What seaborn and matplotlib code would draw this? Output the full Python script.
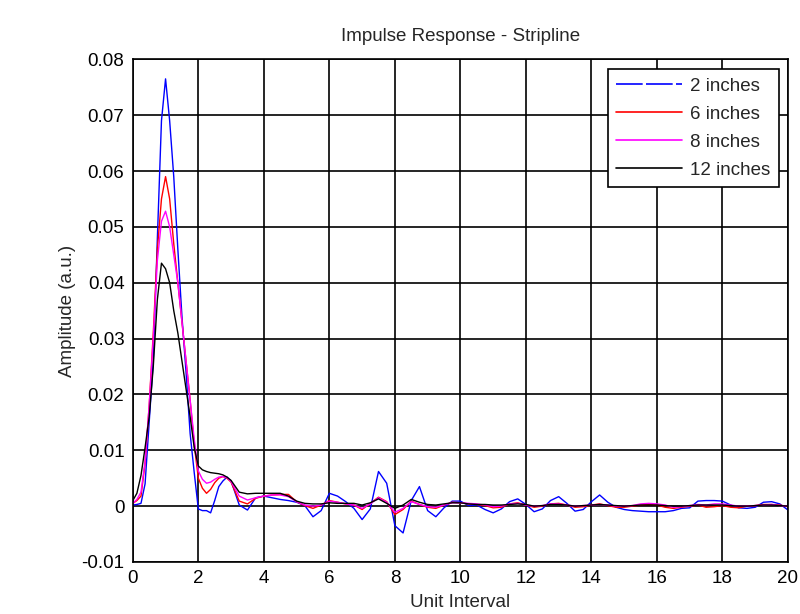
import numpy as np
import pandas as pd
import matplotlib
matplotlib.use("Agg")
import matplotlib.pyplot as plt
import seaborn as sns
from matplotlib.lines import Line2D

# sampling grid (unit intervals): fine near the main pulse, coarser in the tail
ui = np.concatenate([np.arange(0, 3.001, 0.125), np.arange(3.25, 20.001, 0.25)])

series_names = ["2 inches", "6 inches", "8 inches", "12 inches"]

amp_2in = [
    0.0002, 0.0003, 0.0005, 0.004, 0.015, 0.026, 0.048, 0.069, 0.0765, 0.069,
    0.059, 0.046, 0.034, 0.024, 0.013, 0.006, -0.0005, -0.0008, -0.0008, -0.0012,
    0.001, 0.0035, 0.0045, 0.0052, 0.0045,
    0.0002, -0.0007, 0.0015, 0.0018, 0.0015, 0.0012, 0.001, 0.0007, 0.0001, -0.0019,
    -0.0008, 0.0023, 0.0018, 0.0008, -0.0004, -0.0024, -0.0005, 0.0062, 0.0041, -0.0035,
    -0.0048, 0.001, 0.0035, -0.0008, -0.0019, -0.0003, 0.0009, 0.0009, 0.0001, 0.0002,
    -0.0006, -0.0012, -0.0005, 0.0008, 0.0013, 0.0003, -0.001, -0.0005, 0.001, 0.0017,
    0.0005, -0.0009, -0.0006, 0.0008, 0.002, 0.0007, -0.0002, -0.0006, -0.0008, -0.0009,
    -0.001, -0.001, -0.001, -0.0008, -0.0004, -0.0003, 0.0009, 0.001, 0.001, 0.0009,
    0.0002, -0.0003, -0.0004, -0.0002, 0.0007, 0.0008, 0.0004, -0.0007,
]

amp_6in = [
    0.0005, 0.001, 0.0018, 0.0077, 0.018, 0.031, 0.046, 0.055, 0.059, 0.055,
    0.047, 0.040, 0.033, 0.026, 0.019, 0.011, 0.005, 0.0032, 0.0023, 0.003,
    0.0042, 0.005, 0.0053, 0.005, 0.0043,
    0.0009, 0.0004, 0.0014, 0.0018, 0.002, 0.0021, 0.0021, 0.0008, 0.0001, -0.0004,
    0.0002, 0.001, 0.0007, 0.0004, 0.0002, -0.0006, 0.0005, 0.0016, 0.0008, -0.0015,
    -0.0006, 0.0009, 0.0003, -0.0002, -0.0004, 0.0002, 0.0007, 0.0006, 0.0004, 0.0003,
    0.0001, -0.0003, -0.0002, 0.0004, 0.0006, 0.0002, -0.0002, 0.0, 0.0004, 0.0005,
    0.0002, -0.0002, -0.0001, 0.0002, 0.0004, 0.0001, -0.0002, -0.0002, 0.0, 0.0002,
    0.0003, 0.0002, -0.0002, -0.0004, -0.0002, 0.0, 0.0002, -0.0002, -0.0001, 0.0001,
    -0.0002, -0.0003, 0.0, 0.0001, 0.0003, 0.0003, 0.0002, -0.0001,
]

amp_8in = [
    0.0005, 0.0012, 0.0025, 0.008, 0.018, 0.030, 0.044, 0.051, 0.0528, 0.050,
    0.045, 0.040, 0.033, 0.026, 0.019, 0.012, 0.0063, 0.0048, 0.0041, 0.0043,
    0.0048, 0.0052, 0.0053, 0.0051, 0.0044,
    0.0018, 0.0011, 0.0015, 0.0018, 0.002, 0.002, 0.0017, 0.0008, 0.0002, 0.0,
    0.0002, 0.0009, 0.0007, 0.0004, 0.0002, -0.0004, 0.0004, 0.0015, 0.0007, -0.0011,
    -0.0004, 0.0008, 0.0003, -0.0001, -0.0002, 0.0002, 0.0006, 0.0006, 0.0005, 0.0004,
    0.0002, -0.0001, 0.0, 0.0004, 0.0005, 0.0002, 0.0, 0.0001, 0.0004, 0.0004,
    0.0002, 0.0, 0.0001, 0.0002, 0.0003, 0.0002, 0.0, 0.0, 0.0001, 0.0004,
    0.0005, 0.0004, 0.0002, -0.0002, -0.0001, 0.0001, 0.0003, 0.0002, 0.0004, 0.0004,
    0.0002, 0.0, 0.0, 0.0001, 0.0002, 0.0003, 0.0001, 0.0,
]

amp_12in = [
    0.001, 0.0023, 0.0055, 0.0105, 0.016, 0.025, 0.037, 0.0435, 0.0425, 0.040,
    0.035, 0.031, 0.026, 0.021, 0.016, 0.0105, 0.0072, 0.0065, 0.0062, 0.006,
    0.0059, 0.0058, 0.0056, 0.0052, 0.0046,
    0.0025, 0.0022, 0.0023, 0.0023, 0.0023, 0.0023, 0.0018, 0.0009, 0.0005, 0.0004,
    0.0004, 0.0006, 0.0005, 0.0005, 0.0005, 0.0002, 0.0006, 0.0013, 0.0005, -0.0004,
    0.0002, 0.0012, 0.0007, 0.0003, 0.0002, 0.0004, 0.0006, 0.0006, 0.0004, 0.0003,
    0.0003, 0.0002, 0.0002, 0.0003, 0.0004, 0.0003, 0.0, 0.0001, 0.0003, 0.0003,
    0.0002, 0.0, 0.0001, 0.0002, 0.0003, 0.0002, 0.0001, 0.0, 0.0001, 0.0002,
    0.0002, 0.0002, 0.0001, 0.0, 0.0, 0.0001, 0.0002, 0.0002, 0.0002, 0.0002,
    0.0001, 0.0, 0.0, 0.0001, 0.0002, 0.0002, 0.0001, 0.0,
]

x_ticks = list(range(0, 21, 2))
y_ticks = [-0.01, 0, 0.01, 0.02, 0.03, 0.04, 0.05, 0.06, 0.07, 0.08]
y_tick_labels = ["-0.01", "0", "0.01", "0.02", "0.03", "0.04", "0.05", "0.06", "0.07", "0.08"]

colors = {"2 inches": "#0000ff", "6 inches": "#ff0000",
          "8 inches": "#ff00ff", "12 inches": "#000000"}

frames = []
for name, vals in zip(series_names, [amp_2in, amp_6in, amp_8in, amp_12in]):
    frames.append(pd.DataFrame({"ui": ui, "amp": vals, "series": name}))
df = pd.concat(frames, ignore_index=True)

sns.set_style("white")
plt.rcParams["font.family"] = ["Liberation Sans", "DejaVu Sans"]

fig = plt.figure(figsize=(8.0, 6.14), dpi=100)
ax = fig.add_axes([0.166, 0.0847, 0.819, 0.8187])

sns.lineplot(data=df, x="ui", y="amp", hue="series", hue_order=series_names,
             palette=colors, linewidth=1.0, ax=ax, legend=False,
             estimator=None, sort=False)

ax.set_xlim(0, 20)
ax.set_ylim(-0.01, 0.08)
ax.set_xticks(x_ticks)
ax.set_xticklabels([str(t) for t in x_ticks])
ax.set_yticks(y_ticks)
ax.set_yticklabels(y_tick_labels)
ax.grid(True, color="black", linewidth=1.2, linestyle="-")
ax.set_axisbelow(True)
for s in ax.spines.values():
    s.set_color("black")
    s.set_linewidth(1.2)
ax.tick_params(axis="both", labelsize=13.5, colors="black", direction="in",
               length=0, pad=6)

ax.set_title("Impulse Response - Stripline", fontsize=13.5, pad=13)
ax.set_xlabel("Unit Interval", fontsize=13.5, labelpad=5)
ax.set_ylabel("Amplitude (a.u.)", fontsize=13.5, labelpad=4)

handles = [Line2D([], [], color=colors["2 inches"], linewidth=1.2, dashes=(16, 2)),
           Line2D([], [], color=colors["6 inches"], linewidth=1.2),
           Line2D([], [], color=colors["8 inches"], linewidth=1.2),
           Line2D([], [], color=colors["12 inches"], linewidth=1.2)]
leg = ax.legend(handles, series_names, loc="upper right", fontsize=13.5,
                frameon=True, fancybox=False, framealpha=1, edgecolor="black",
                handlelength=3.5, handletextpad=0.45, labelspacing=0.58,
                borderpad=0.45, borderaxespad=0, bbox_to_anchor=(0.9863, 0.980))
leg.get_frame().set_linewidth(1.2)

fig.savefig("out.png", dpi=100, facecolor="white")
